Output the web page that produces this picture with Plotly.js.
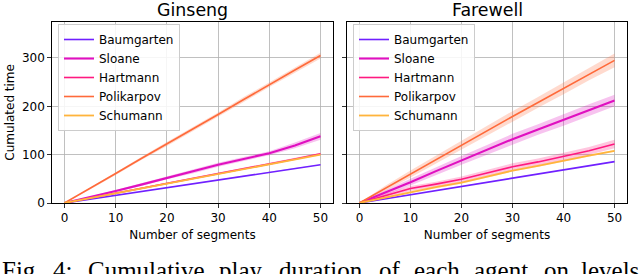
<!DOCTYPE html>
<html>
<head>
<meta charset="utf-8">
<script src="https://cdn.plot.ly/plotly-3.0.1.min.js"></script>
<style>
html,body{margin:0;padding:0;background:#fff;overflow:hidden;}
#chart{width:640px;height:274px;}
</style>
</head>
<body>
<div id="chart"></div>
<script>
// ---- data ----
const segments = [0, 5, 10, 15, 20, 25, 30, 35, 40, 45, 50];
const agents = ["Baumgarten", "Sloane", "Hartmann", "Polikarpov", "Schumann"];
const agentColors = ["#7020ff", "#e010c0", "#ff1a80", "#ff6a3a", "#ffb43c"];
const agentFills = ["rgba(112,32,255,0.25)", "rgba(224,16,192,0.25)", "rgba(255,26,128,0.25)", "rgba(255,106,58,0.25)", "rgba(255,180,60,0.25)"];
const agentWidths = [1.6, 2.1, 1.6, 1.6, 1.8];

// Ginseng means and spread
const ginsengBaumgarten = [0, 8, 16, 24.5, 32, 40, 48.5, 56, 64, 72, 79];
const ginsengSloane     = [0, 12, 25, 38, 52, 65, 79, 91, 103, 119, 138];
const ginsengHartmann   = [0, 10, 20.5, 31, 41, 51, 61, 71, 81, 91, 102];
const ginsengPolikarpov = [0, 30, 61, 92, 122, 152, 183, 214, 245, 275, 305];
const ginsengSchumann   = [0, 10, 20, 30, 40, 50, 60, 70, 80, 90, 100];
const ginsengBaumgartenErr = [0, 0.5, 0.5, 0.5, 0.5, 0.5, 0.5, 0.5, 0.5, 0.5, 0.5];
const ginsengSloaneErr     = [0, 1, 2, 3, 3, 4, 4, 4, 4, 6, 7];
const ginsengHartmannErr   = [0, 1, 1, 1, 1.5, 1.5, 2, 2, 2, 2, 2];
const ginsengPolikarpovErr = [0, 2, 3, 3, 4, 4, 4, 5, 5, 5, 6];
const ginsengSchumannErr   = [0, 1, 1, 1, 1, 1, 1, 1, 1, 1, 1];

// Farewell means and spread
const farewellBaumgarten = [0, 8.5, 17.5, 26, 34.5, 43, 52, 60, 69, 77, 85.5];
const farewellSloane     = [0, 21, 43, 66, 88, 110, 132, 152, 172, 192, 212];
const farewellHartmann   = [0, 15, 30, 39, 49, 62, 75, 85, 96, 108, 122];
const farewellPolikarpov = [0, 30, 60, 90, 119, 150, 179, 208, 237, 267, 295];
const farewellSchumann   = [0, 11, 23, 33, 42, 54, 67, 77, 88, 98, 108];
const farewellBaumgartenErr = [0, 0.5, 0.5, 0.5, 0.5, 0.5, 0.5, 0.5, 0.5, 0.5, 0.5];
const farewellSloaneErr     = [0, 5, 7, 8, 9, 10, 11, 11, 12, 12, 12];
const farewellHartmannErr   = [0, 4, 5, 5, 6, 6, 7, 7, 8, 8, 9];
const farewellPolikarpovErr = [0, 5, 7, 8, 9, 10, 11, 11, 12, 13, 14];
const farewellSchumannErr   = [0, 2, 2, 2, 2, 2, 2, 2, 2, 2, 2];

const panelTitles = ["Ginseng", "Farewell"];
const xTickVals = [0, 10, 20, 30, 40, 50];
const yTickVals = [0, 100, 200, 300];
const xLabel = "Number of segments";
const yLabel = "Cumulated time";
const captionWords = ["Fig.", "4:", "Cumulative", "play", "duration", "of", "each", "agent", "on", "levels"];
const captionX = [0.5, 52, 87, 218, 278, 378, 413, 473, 543, 580];

// ---- build ----
const W = 640, H = 274;
const ginsengMeans = [ginsengBaumgarten, ginsengSloane, ginsengHartmann, ginsengPolikarpov, ginsengSchumann];
const ginsengErrs = [ginsengBaumgartenErr, ginsengSloaneErr, ginsengHartmannErr, ginsengPolikarpovErr, ginsengSchumannErr];
const farewellMeans = [farewellBaumgarten, farewellSloane, farewellHartmann, farewellPolikarpov, farewellSchumann];
const farewellErrs = [farewellBaumgartenErr, farewellSloaneErr, farewellHartmannErr, farewellPolikarpovErr, farewellSchumannErr];

const traces = [];
function addPanel(means, errs, xa, ya, legendId, tag) {
  for (let i = 0; i < agents.length; i++) {
    const lo = means[i].map((v, k) => v - errs[i][k]);
    const hi = means[i].map((v, k) => v + errs[i][k]);
    traces.push({x: segments, y: lo, xaxis: xa, yaxis: ya, mode: 'lines', line: {width: 0, color: agentColors[i]},
      showlegend: false, hoverinfo: 'skip', legend: legendId, legendgroup: tag + i});
    traces.push({x: segments, y: hi, xaxis: xa, yaxis: ya, mode: 'lines', line: {width: 0, color: agentColors[i]},
      fill: 'tonexty', fillcolor: agentFills[i], showlegend: false, hoverinfo: 'skip', legend: legendId, legendgroup: tag + i});
  }
  for (let i = 0; i < agents.length; i++) {
    traces.push({x: segments, y: means[i], xaxis: xa, yaxis: ya, mode: 'lines', name: agents[i],
      line: {color: agentColors[i], width: agentWidths[i]}, legend: legendId, legendgroup: tag + i});
  }
}
addPanel(ginsengMeans, ginsengErrs, 'x', 'y', 'legend', 'g');
addPanel(farewellMeans, farewellErrs, 'x2', 'y2', 'legend2', 'f');

const font = {family: 'DejaVu Sans', size: 12, color: '#000'};
const axisCommon = {
  showline: true, mirror: true, linecolor: '#000', linewidth: 1,
  ticks: 'outside', ticklen: 3.5, tickwidth: 0.8, tickcolor: '#000',
  showgrid: true, gridcolor: '#b0b0b0', gridwidth: 0.8, zeroline: false,
  tickfont: font, automargin: false, fixedrange: true
};
const yDom = [1 - 203 / H, 1 - 21.7 / H];
const legendCommon = {xanchor: 'left', yanchor: 'top', bgcolor: 'rgba(255,255,255,0.85)',
  bordercolor: '#cccccc', borderwidth: 1, font: font, traceorder: 'grouped', tracegroupgap: 0, itemwidth: 30};
const layout = {
  width: W, height: H,
  margin: {l: 0, r: 0, t: 0, b: 0},
  paper_bgcolor: '#fff', plot_bgcolor: '#fff',
  font: font,
  showlegend: true,
  xaxis: Object.assign({}, axisCommon, {domain: [51.7 / W, 333.3 / W], range: [-2.5, 52.5], tickvals: xTickVals,
    title: {text: xLabel, font: font, standoff: 6}, anchor: 'y'}),
  yaxis: Object.assign({}, axisCommon, {domain: yDom, range: [0, 375], tickvals: yTickVals,
    title: {text: yLabel, font: font, standoff: 4}, anchor: 'x'}),
  xaxis2: Object.assign({}, axisCommon, {domain: [346.7 / W, 627.3 / W], range: [-2.5, 52.5], tickvals: xTickVals,
    title: {text: xLabel, font: font, standoff: 6}, anchor: 'y2'}),
  yaxis2: Object.assign({}, axisCommon, {domain: yDom, range: [0, 375], tickvals: yTickVals,
    showticklabels: false, anchor: 'x2'}),
  legend: Object.assign({}, legendCommon, {x: 58 / W, y: 1 - 24 / H}),
  legend2: Object.assign({}, legendCommon, {x: 353 / W, y: 1 - 24 / H}),
  annotations: []
};
// panel titles
const titleCenters = [192.5, 487];
panelTitles.forEach((t, i) => layout.annotations.push({
  text: t, xref: 'paper', yref: 'paper', x: titleCenters[i] / W, y: 1 - 10 / H,
  xanchor: 'center', yanchor: 'middle', showarrow: false,
  font: {family: 'DejaVu Sans', size: 17.4, color: '#000'}
}));
// caption words
captionWords.forEach((w, i) => layout.annotations.push({
  text: w, xref: 'paper', yref: 'paper', x: captionX[i] / W, y: 1 - 256 / H,
  xanchor: 'left', yanchor: 'top', showarrow: false, borderpad: 0,
  font: {family: 'Liberation Serif', size: 25, color: '#000'}
}));

Plotly.newPlot('chart', traces, layout, {staticPlot: true, displayModeBar: false});
</script>
</body>
</html>
